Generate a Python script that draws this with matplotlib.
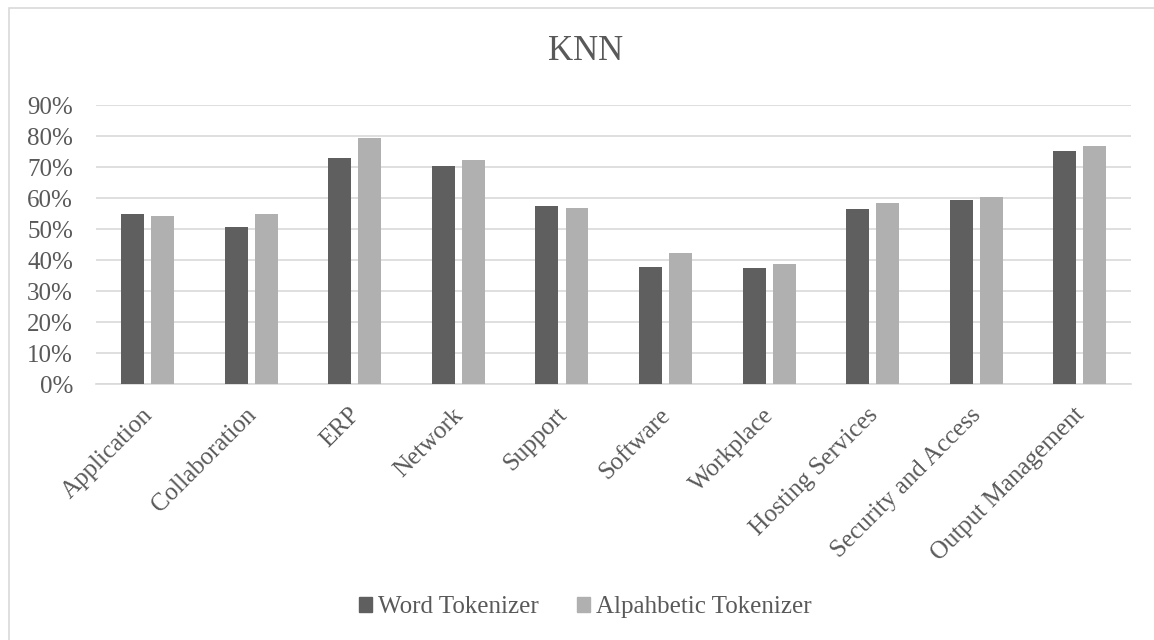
import numpy as np
import matplotlib.pyplot as plt
from matplotlib.patches import Patch, Rectangle
from matplotlib.ticker import PercentFormatter
from matplotlib.transforms import ScaledTranslation

categories = ["Application", "Collaboration", "ERP", "Network", "Support",
              "Software", "Workplace", "Hosting Services", "Security and Access",
              "Output Management"]
word_tok = [54.8, 50.7, 73.0, 70.4, 57.5, 37.9, 37.4, 56.5, 59.4, 75.2]
alpha_tok = [54.3, 54.9, 79.3, 72.4, 56.7, 42.4, 38.9, 58.4, 60.3, 76.7]
series_names = ["Word Tokenizer", "Alpahbetic Tokenizer"]

dark = "#5f5f5f"
light = "#b0b0b0"
text_col = "#595959"
grid_col = "#d9d9d9"

plt.rcParams["font.family"] = ["Liberation Serif", "DejaVu Serif"]

fig = plt.figure(figsize=(11.54, 6.40), dpi=100)
ax = fig.add_axes([0.0832, 0.3995, 0.8973, 0.4364])

x = np.arange(len(categories))
w = 0.222
off = 0.145
ax.bar(x - off, np.array(word_tok) / 100, w, color=dark, zorder=3)
ax.bar(x + off, np.array(alpha_tok) / 100, w, color=light, zorder=3)

ax.set_xlim(-0.5, len(categories) - 0.5)
ax.set_ylim(0, 0.9)
ax.set_yticks(np.arange(0, 0.91, 0.1))
ax.yaxis.set_major_formatter(PercentFormatter(1.0, decimals=0))
ax.grid(axis="y", color=grid_col, lw=1.2, zorder=0)
for s in ["top", "right", "left"]:
    ax.spines[s].set_visible(False)
ax.spines["bottom"].set_color(grid_col)
ax.spines["bottom"].set_linewidth(1.2)
ax.tick_params(axis="y", length=0, pad=16.5, labelsize=18, labelcolor=text_col)
ax.tick_params(axis="x", length=0, pad=14, labelsize=18, labelcolor=text_col)
ax.set_xticks(x)
ax.set_xticklabels(categories, rotation=45, ha="right", rotation_mode="anchor")
shift = ScaledTranslation(-6 / 100, 0, fig.dpi_scale_trans)
for lab in ax.get_xticklabels():
    lab.set_transform(lab.get_transform() + shift)

fig.text(0.507, 0.92, "KNN", ha="center", va="center", fontsize=25, color=text_col)

handles = [Patch(color=dark), Patch(color=light)]
fig.legend(handles, series_names, loc="center", bbox_to_anchor=(0.5074, 0.051), ncol=2,
           frameon=False, fontsize=18, labelcolor=text_col, handlelength=0.51,
           handleheight=0.51, handletextpad=0.24, columnspacing=1.55)

# light frame around the whole chart
fig.patches.append(Rectangle((8.5 / 1154, -0.1), 1.2, 1.1 - 8.5 / 640, transform=fig.transFigure,
                             fill=False, edgecolor=grid_col, lw=1.2))

fig.savefig("out.png", dpi=100)
